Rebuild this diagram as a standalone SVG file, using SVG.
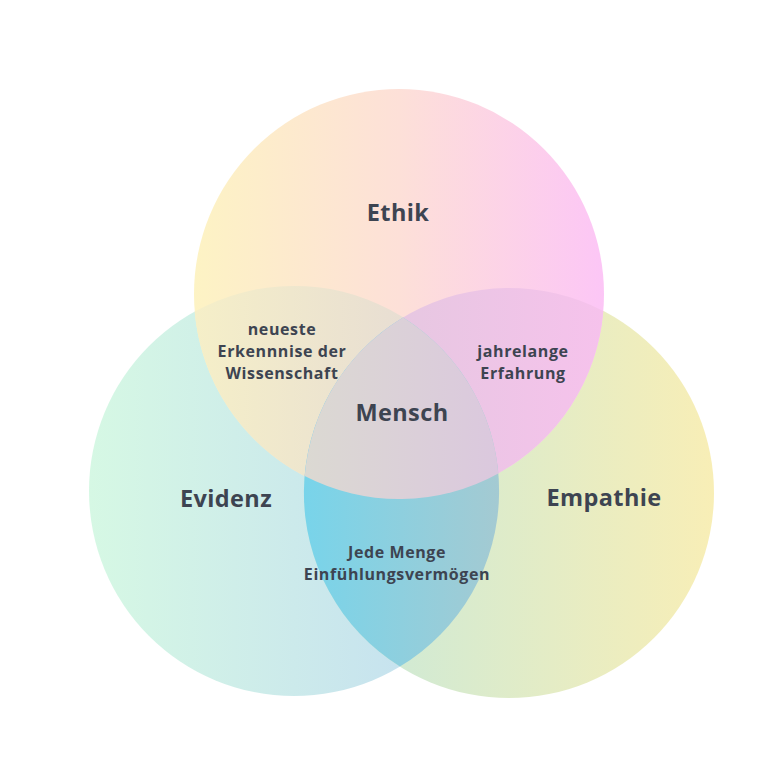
<svg xmlns="http://www.w3.org/2000/svg" width="768" height="768" viewBox="0 0 768 768">
<defs>
<linearGradient id="gT" x1="0" y1="0" x2="1" y2="0"><stop offset="0" stop-color="#fdf3c4"/><stop offset="0.5" stop-color="#fde0d8"/><stop offset="1" stop-color="#fcc6f6"/></linearGradient>
<linearGradient id="gL" x1="0" y1="0" x2="1" y2="0"><stop offset="0" stop-color="#d6f8e4"/><stop offset="1" stop-color="#c2dcf2"/></linearGradient>
<linearGradient id="gR" x1="0" y1="0" x2="1" y2="0"><stop offset="0" stop-color="#c6e9dc"/><stop offset="1" stop-color="#f8eeb6"/></linearGradient>
<linearGradient id="gTL" x1="0" y1="0" x2="1" y2="0"><stop offset="0" stop-color="#f5efc8"/><stop offset="1" stop-color="#e2d6d8"/></linearGradient>
<linearGradient id="gTR" x1="0" y1="0" x2="1" y2="0"><stop offset="0" stop-color="#dfcadc"/><stop offset="1" stop-color="#f6c2ec"/></linearGradient>
<linearGradient id="gLR" x1="0" y1="0" x2="1" y2="0"><stop offset="0" stop-color="#78d4ea"/><stop offset="1" stop-color="#a4cad2"/></linearGradient>
<linearGradient id="gC" x1="0" y1="0" x2="1" y2="0"><stop offset="0" stop-color="#dbd9d2"/><stop offset="1" stop-color="#dbc8de"/></linearGradient>
<style>
text{font-family:"Open Sans","Noto Sans","Liberation Sans",sans-serif;fill:#3d4451;text-anchor:middle}
.big{font-size:23.5px;font-weight:700;letter-spacing:0.4px}
.small{font-size:16px;font-weight:700;letter-spacing:0.6px}
</style>
</defs>
<g id="circles">
<g id="evidenz"><circle cx="294" cy="491" r="205" fill="url(#gL)"/></g>
<g id="empathie"><circle cx="509" cy="493" r="205" fill="url(#gR)"/></g>
<g id="ethik"><circle cx="399" cy="294" r="205" fill="url(#gT)"/></g>
<g id="lens-ethik-evidenz"><path d="M194.7,311.6 A205,205 0 0 1 498.3,473.4 A205,205 0 0 1 194.7,311.6 Z" fill="url(#gTL)"/></g>
<g id="lens-ethik-empathie"><path d="M304.7,476 A205,205 0 0 1 603.3,311 A205,205 0 0 1 304.7,476 Z" fill="url(#gTR)"/></g>
<g id="lens-evidenz-empathie"><path d="M403.1,317.4 A205,205 0 0 1 399.9,666.6 A205,205 0 0 1 403.1,317.4 Z" fill="url(#gLR)"/></g>
<g id="mensch"><path d="M403.1,317.4 A205,205 0 0 1 498.3,473.4 A205,205 0 0 1 304.7,476 A205,205 0 0 1 403.1,317.4 Z" fill="url(#gC)"/></g>
</g>
<g id="connectors"/>
<g id="labels">
<text class="big" x="398" y="221">Ethik</text>
<text class="big" x="226" y="507">Evidenz</text>
<text class="big" x="604" y="506">Empathie</text>
<text class="big" x="402" y="421">Mensch</text>
<text class="small" x="282" y="335">neueste</text>
<text class="small" x="282" y="357">Erkennnise der</text>
<text class="small" x="282" y="379">Wissenschaft</text>
<text class="small" x="523" y="357">jahrelange</text>
<text class="small" x="523" y="379">Erfahrung</text>
<text class="small" x="397" y="558">Jede Menge</text>
<text class="small" x="397" y="580">Einfühlungsvermögen</text>
</g>
</svg>
